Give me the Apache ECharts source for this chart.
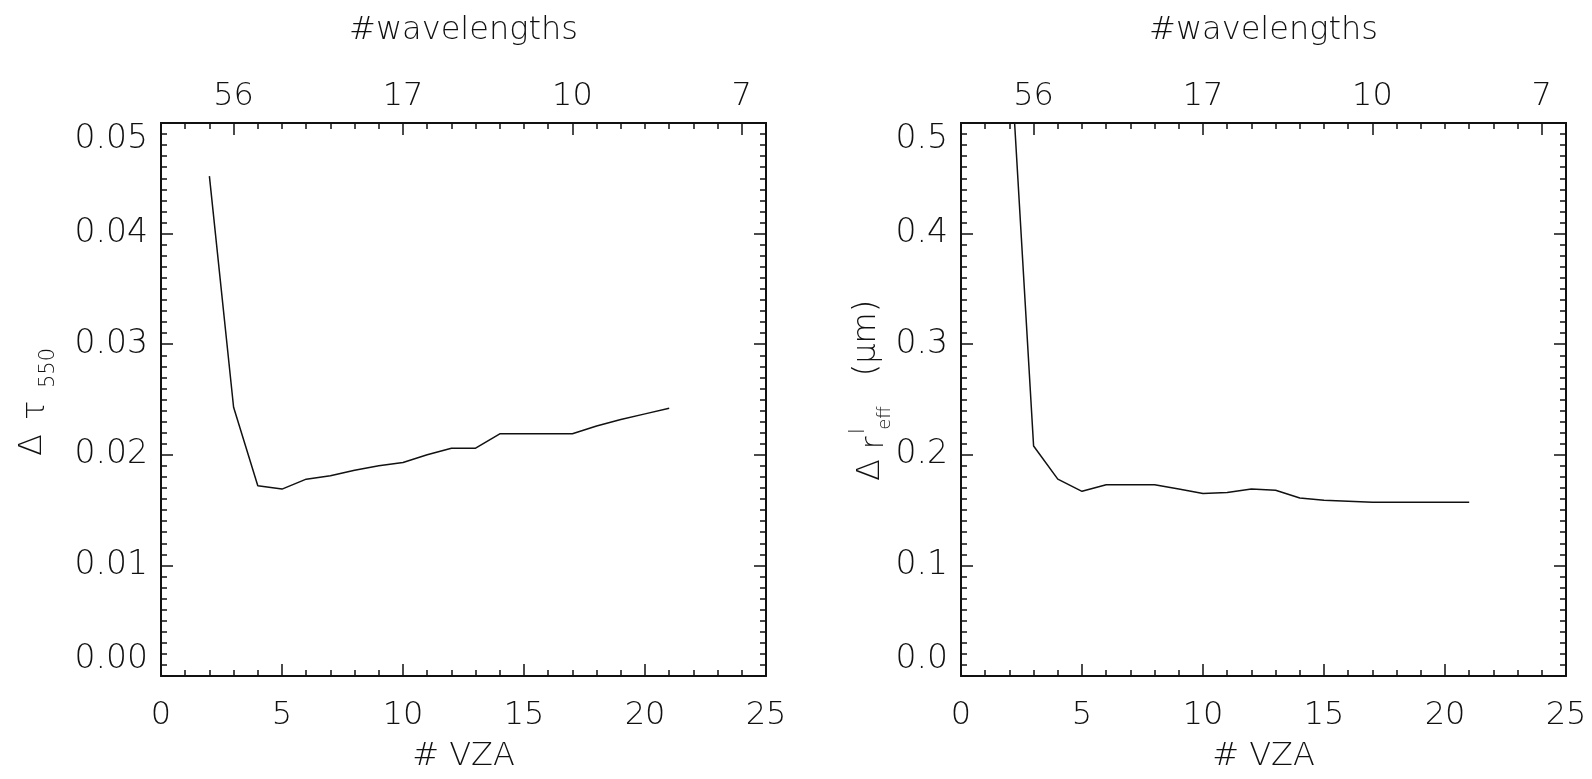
<!DOCTYPE html>
<html>
<head>
<meta charset="utf-8">
<script src="https://cdn.jsdelivr.net/npm/echarts@6/dist/echarts.min.js"></script>
<style>
html,body{margin:0;padding:0;background:#fff;}
#main{width:1592px;height:779px;}
</style>
</head>
<body>
<div id="main"></div>
<script>
// ---- data ----
const vza = [2, 3, 4, 5, 6, 7, 8, 9, 10, 11, 12, 13, 14, 15, 16, 17, 18, 19, 20, 21];
const dTau550 = [0.0452, 0.0243, 0.0172, 0.0169, 0.0178, 0.0181, 0.0186, 0.0190, 0.0193, 0.0200, 0.0206, 0.0206, 0.0219, 0.0219, 0.0219, 0.0219, 0.0226, 0.0232, 0.0237, 0.0242];
const dReff = [0.58, 0.208, 0.178, 0.167, 0.173, 0.173, 0.173, 0.169, 0.165, 0.166, 0.169, 0.168, 0.161, 0.159, 0.158, 0.157, 0.157, 0.157, 0.157, 0.157];
const topTickVza = [3, 10, 17, 24];
const topTickLabels = ['56', '17', '10', '7'];
const xTitle = '# VZA';
const topTitle = '#wavelengths';

// ---- styling ----
const FONT = 'DejaVu Sans';
const FS = 32;
const INK = '#111';
const lineAxis = {show: true, onZero: false, lineStyle: {color: INK, width: 2}};

function xAxes(grid) {
  return [
    { // bottom
      type: 'value', gridIndex: grid, position: 'bottom', min: 0, max: 25, interval: 5,
      axisLine: lineAxis,
      axisTick: {show: true, inside: true, length: 12, lineStyle: {color: INK, width: 1.5}},
      minorTick: {show: true, splitNumber: 5, length: 6, lineStyle: {color: INK, width: 1.5}},
      splitLine: {show: false},
      axisLabel: {color: INK, fontFamily: FONT, fontSize: FS, fontWeight: 200, margin: 24},
      name: xTitle, nameLocation: 'middle', nameGap: 65,
      nameTextStyle: {color: INK, fontFamily: FONT, fontSize: FS, fontWeight: 200}
    },
    { // top: unit ticks
      type: 'value', gridIndex: grid, position: 'top', min: 0, max: 25, interval: 1,
      axisLine: lineAxis,
      axisTick: {show: true, inside: true, length: 6, lineStyle: {color: INK, width: 1.5}},
      axisLabel: {show: false}, splitLine: {show: false}
    },
    { // top: wavelength labels
      type: 'value', gridIndex: grid, position: 'top', min: 0, max: 25,
      axisLine: lineAxis,
      axisTick: {show: true, inside: true, length: 12, customValues: topTickVza, lineStyle: {color: INK, width: 1.5}},
      axisLabel: {show: true, customValues: topTickVza, color: INK, fontFamily: FONT, fontSize: FS, fontWeight: 200, margin: 10,
        formatter: v => { const i = topTickVza.indexOf(v); return i >= 0 ? topTickLabels[i] : ''; }},
      splitLine: {show: false},
      name: topTitle, nameLocation: 'middle', nameGap: 76,
      nameTextStyle: {color: INK, fontFamily: FONT, fontSize: FS, fontWeight: 200}
    }
  ];
}
function yAxes(grid, max, interval, digits) {
  const common = {
    type: 'value', gridIndex: grid, min: 0, max: max, interval: interval,
    axisLine: lineAxis,
    axisTick: {show: true, inside: true, length: 12, lineStyle: {color: INK, width: 1.5}},
    minorTick: {show: true, splitNumber: 10, length: 6, lineStyle: {color: INK, width: 1.5}},
    splitLine: {show: false}
  };
  return [
    Object.assign({}, common, {position: 'left',
      axisLabel: {color: INK, fontFamily: FONT, fontSize: 33, fontWeight: 200, margin: 13,
        verticalAlignMinLabel: 'bottom', verticalAlignMaxLabel: 'top',
        formatter: v => v.toFixed(digits)}}),
    Object.assign({}, common, {position: 'right', axisLabel: {show: false}})
  ];
}

const txt = (t, x, y, size) => ({
  type: 'text', x: x, y: y, rotation: Math.PI / 2,
  style: {text: t, fill: INK, font: '200 ' + size + 'px "' + FONT + '"', align: 'center', verticalAlign: 'middle'}
});

const option = {
  backgroundColor: '#fff',
  animation: false,
  grid: [
    {left: 161, top: 123, width: 605, height: 553},
    {left: 961, top: 123, width: 605, height: 553}
  ],
  xAxis: xAxes(0).concat(xAxes(1)),
  yAxis: yAxes(0, 0.05, 0.01, 2).concat(yAxes(1, 0.5, 0.1, 1)),
  series: [
    {type: 'line', xAxisIndex: 0, yAxisIndex: 0, data: vza.map((v, i) => [v, dTau550[i]]),
      showSymbol: false, symbol: 'none', lineStyle: {color: INK, width: 1.5}, clip: true},
    {type: 'line', xAxisIndex: 3, yAxisIndex: 2, data: vza.map((v, i) => [v, dReff[i]]),
      showSymbol: false, symbol: 'none', lineStyle: {color: INK, width: 1.5}, clip: true}
  ],
  graphic: [
    txt('Δ', 33, 445, 32),
    txt('τ', 36, 410, 32),
    txt('550', 49, 368, 21),
    txt('Δ', 871, 470, 32),
    txt('r', 875, 443, 32),
    txt('l', 859, 431, 21),
    txt('eff', 885, 418, 18),
    txt('(μm)', 867, 338, 32)
  ]
};
const chart = echarts.init(document.getElementById('main'), null, {renderer: 'canvas'});
chart.setOption(option);
</script>
</body>
</html>
